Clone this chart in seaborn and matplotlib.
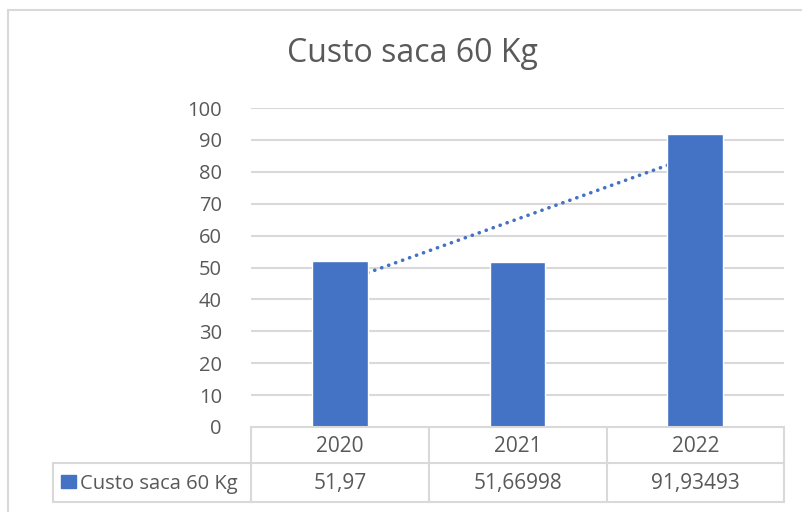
import matplotlib
matplotlib.use("Agg")
import matplotlib.pyplot as plt
import seaborn as sns
import pandas as pd
import numpy as np
from matplotlib.patches import Rectangle
from matplotlib.lines import Line2D

categories = ["2020", "2021", "2022"]
values = [51.97, 51.66998, 91.93493]
value_labels = ["51,97", "51,66998", "91,93493"]
series_name = "Custo saca 60 Kg"
title = "Custo saca 60 Kg"
yticks = list(range(0, 101, 10))

sns.set_theme(style="white")
plt.rcParams['font.family'] = ['Open Sans', 'DejaVu Sans']

W, H = 803, 512
fig = plt.figure(figsize=(W / 100, H / 100), dpi=100)
fig.patch.set_facecolor("white")

def fx(px):
    return px / W

def fy(py):
    return 1 - py / H

ax_l, ax_r, ax_t, ax_b = 251, 784, 108, 427
ax = fig.add_axes([fx(ax_l), fy(ax_b), fx(ax_r - ax_l), (ax_b - ax_t) / H])

df = pd.DataFrame({"year": categories, "value": values})
bar_color = "#4472C4"
text_color = "#595959"
grid_color = "#D9D9D9"

# trendline (linear) drawn beneath bars
xs = np.arange(len(values))
coef = np.polyfit(xs, values, 1)
ax.plot(xs, np.polyval(coef, xs), linestyle=(0, (0.05, 2.0)), dash_capstyle="round",
        color=bar_color, lw=2.6, zorder=1)

sns.barplot(data=df, x="year", y="value", color=bar_color, width=0.315,
            saturation=1, ax=ax, zorder=2)

ax.set_xlim(-0.5, 2.5)
ax.set_ylim(0, 100)
ax.set_yticks(yticks)
ax.set_yticklabels([str(t) for t in yticks], color=text_color, fontsize=14.5)
ax.tick_params(axis="y", length=0, pad=21)
ax.set_xticks([])
ax.set_xlabel("")
ax.set_ylabel("")
for s in ax.spines.values():
    s.set_visible(False)
for t in yticks[1:]:
    ax.axhline(t, color=grid_color, lw=1.5, zorder=0)

# outer frame (top and left)
fig.add_artist(Line2D([fx(8), 1], [fy(9.5), fy(9.5)], color="#D9D9D9", lw=1.5))
fig.add_artist(Line2D([fx(8), fx(8)], [fy(9.5), 0], color="#D9D9D9", lw=1.5))

# title
fig.text(fx(412), fy(53), title, ha="center", va="center", fontsize=23, color=text_color)

# data table
tc = "#D9D9D9"
col_x = [251, 429.5, 607, 784]
row1_top, row_mid, row_bot = 427, 463, 502
leg_left = 53
def hline(y, x0, x1):
    fig.add_artist(Line2D([fx(x0), fx(x1)], [fy(y), fy(y)], color=tc, lw=1.5))
def vline(x, y0, y1):
    fig.add_artist(Line2D([fx(x), fx(x)], [fy(y0), fy(y1)], color=tc, lw=1.5))

hline(row1_top, col_x[0], col_x[-1])
hline(row_mid, leg_left, col_x[-1])
hline(row_bot, leg_left, col_x[-1])
for x in col_x:
    vline(x, row1_top, row_bot)
vline(leg_left, row_mid, row_bot)

for i, cat in enumerate(categories):
    cx = (col_x[i] + col_x[i + 1]) / 2
    fig.text(fx(cx), fy((row1_top + row_mid) / 2 + 1), cat, ha="center", va="center",
             fontsize=15, color=text_color)
    fig.text(fx(cx), fy((row_mid + row_bot) / 2 + 1), value_labels[i], ha="center",
             va="center", fontsize=15, color=text_color)

fig.add_artist(Rectangle((fx(61), fy(488)), fx(15), 13 / H, color=bar_color))
fig.text(fx(80), fy((row_mid + row_bot) / 2 + 1), series_name, ha="left", va="center",
         fontsize=14.5, color=text_color)

fig.savefig("out.png", dpi=100, facecolor="white")
